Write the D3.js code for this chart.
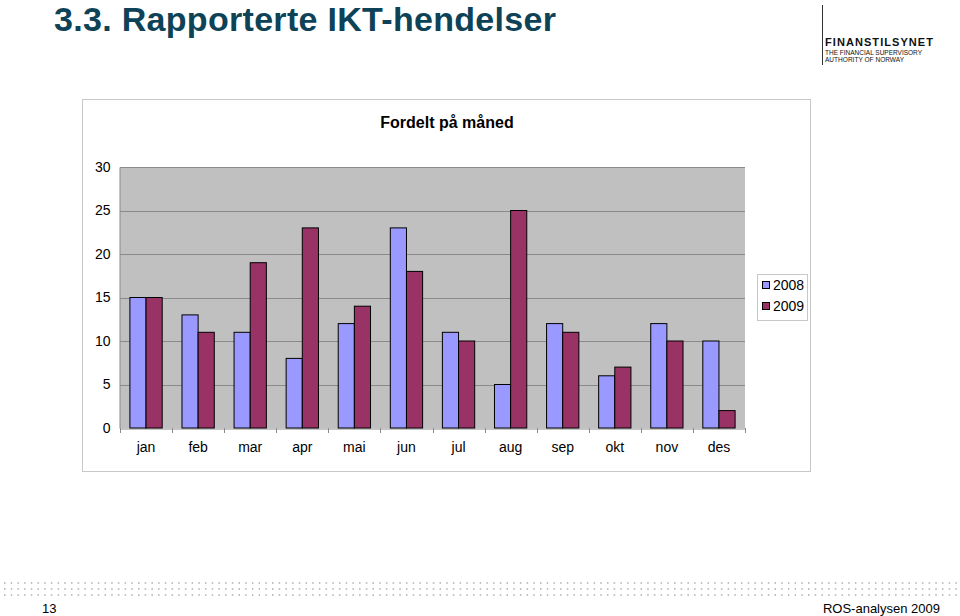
<!DOCTYPE html>
<html>
<head>
<meta charset="utf-8">
<script src="https://cdn.jsdelivr.net/npm/d3@7"></script>
<style>
  body { margin: 0; background: #fff; }
  svg { display: block; font-family: "Liberation Sans", Arial, sans-serif; }
</style>
</head>
<body>
<svg id="page" width="960" height="616"></svg>
<script>
var months = ['jan', 'feb', 'mar', 'apr', 'mai', 'jun', 'jul', 'aug', 'sep', 'okt', 'nov', 'des'];
var values2008 = [15, 13, 11, 8, 12, 23, 11, 5, 12, 6, 12, 10];
var values2009 = [15, 11, 19, 23, 14, 18, 10, 25, 11, 7, 10, 2];
var seriesNames = ['2008', '2009'];
var seriesColors = ['#9999ff', '#993366'];
var yTicks = [0, 5, 10, 15, 20, 25, 30];

var svg = d3.select('#page');

// slide title
svg.append('text')
  .attr('x', 54).attr('y', 31)
  .attr('font-size', 34).attr('font-weight', 'bold')
  .attr('fill', '#0d4257')
  .attr('textLength', 502)
  .text('3.3. Rapporterte IKT-hendelser');

// logo
svg.append('line')
  .attr('x1', 822.5).attr('x2', 822.5).attr('y1', 5).attr('y2', 65)
  .attr('stroke', '#333').attr('stroke-width', 1);
svg.append('text').attr('x', 825).attr('y', 46)
  .attr('font-size', 11).attr('font-weight', 'bold').attr('fill', '#111')
  .attr('textLength', 108)
  .text('FINANSTILSYNET');
svg.append('text').attr('x', 825).attr('y', 55)
  .attr('font-size', 6.5).attr('fill', '#111').attr('textLength', 97)
  .text('THE FINANCIAL SUPERVISORY');
svg.append('text').attr('x', 825).attr('y', 62)
  .attr('font-size', 6.5).attr('fill', '#111').attr('textLength', 79)
  .text('AUTHORITY OF NORWAY');

// chart frame
svg.append('rect')
  .attr('x', 82.5).attr('y', 99.5).attr('width', 728).attr('height', 372)
  .attr('fill', '#fff').attr('stroke', '#c8c8c8');

svg.append('text')
  .attr('x', 447).attr('y', 128)
  .attr('text-anchor', 'middle')
  .attr('font-size', 16).attr('font-weight', 'bold')
  .text('Fordelt på måned');

var plot = { left: 120, right: 745, top: 167, bottom: 428 };

var x = d3.scaleBand().domain(months)
  .range([plot.left, plot.right])
  .paddingInner(0.38).paddingOuter(0.19);
var xs = d3.scaleBand().domain(seriesNames).range([0, x.bandwidth()]);
var y = d3.scaleLinear().domain([0, 30]).range([plot.bottom, plot.top]);

svg.append('rect')
  .attr('x', plot.left).attr('y', plot.top)
  .attr('width', plot.right - plot.left).attr('height', plot.bottom - plot.top)
  .attr('fill', '#c0c0c0');

// gridlines
svg.append('g').selectAll('line')
  .data(yTicks.filter(function(d) { return d > 0; }))
  .enter().append('line')
  .attr('x1', plot.left).attr('x2', plot.right)
  .attr('y1', function(d) { return Math.round(y(d)) + 0.5; })
  .attr('y2', function(d) { return Math.round(y(d)) + 0.5; })
  .attr('stroke', '#8a8a8a');

// y axis
var yAxis = svg.append('g')
  .attr('transform', 'translate(' + (plot.left - 0.5) + ',0)')
  .call(d3.axisLeft(y).tickValues(yTicks).tickSize(0).tickPadding(9));
yAxis.select('.domain').attr('stroke', '#8a8a8a');
yAxis.selectAll('text').attr('font-size', 14).attr('fill', '#000')
  .attr('font-family', '"Liberation Sans", Arial, sans-serif');

// x axis
var xAxis = svg.append('g')
  .attr('transform', 'translate(0,' + (plot.bottom + 0.5) + ')')
  .call(d3.axisBottom(x).tickSize(0).tickPadding(14));
xAxis.select('.domain').attr('stroke', '#8a8a8a');
xAxis.selectAll('text').attr('font-size', 14).attr('fill', '#000')
  .attr('font-family', '"Liberation Sans", Arial, sans-serif');
// category dividers on the x axis
var step = (plot.right - plot.left) / months.length;
svg.append('g').selectAll('line')
  .data(d3.range(months.length + 1))
  .enter().append('line')
  .attr('x1', function(i) { return Math.round(plot.left + i * step) + 0.5; })
  .attr('x2', function(i) { return Math.round(plot.left + i * step) + 0.5; })
  .attr('y1', plot.bottom).attr('y2', plot.bottom + 5)
  .attr('stroke', '#8a8a8a');

// bars
var rows = months.map(function(m, i) {
  return { month: m, values: [values2008[i], values2009[i]] };
});
var groups = svg.append('g').selectAll('g')
  .data(rows).enter().append('g')
  .attr('transform', function(d) { return 'translate(' + x(d.month) + ',0)'; });
groups.selectAll('rect')
  .data(function(d) {
    return d.values.map(function(v, j) { return { name: seriesNames[j], value: v, color: seriesColors[j] }; });
  })
  .enter().append('rect')
  .attr('x', function(d) { return xs(d.name); })
  .attr('y', function(d) { return y(d.value); })
  .attr('width', xs.bandwidth())
  .attr('height', function(d) { return y(0) - y(d.value); })
  .attr('fill', function(d) { return d.color; })
  .attr('stroke', '#000').attr('stroke-width', 1);

// legend
var legend = svg.append('g').attr('transform', 'translate(757,274)');
legend.append('rect').attr('x', 0.5).attr('y', 0.5).attr('width', 50).attr('height', 46)
  .attr('fill', '#fff').attr('stroke', '#c8c8c8');
var items = legend.selectAll('g.item').data(seriesNames).enter().append('g')
  .attr('transform', function(d, i) { return 'translate(5,' + (7 + i * 21) + ')'; });
items.append('rect').attr('width', 7).attr('height', 7).attr('y', 0.5).attr('x', 0.5)
  .attr('fill', function(d, i) { return seriesColors[i]; })
  .attr('stroke', '#000');
items.append('text').attr('x', 11).attr('y', 9)
  .attr('font-size', 14).text(function(d) { return d; });

// dotted footer bands
[583, 589, 595].forEach(function(yy) {
  svg.append('line')
    .attr('x1', 4).attr('x2', 958).attr('y1', yy).attr('y2', yy)
    .attr('stroke', '#a8b0b8').attr('stroke-width', 1.5)
    .attr('stroke-dasharray', '1.5,5.2');
});
svg.append('text').attr('x', 42).attr('y', 613).attr('font-size', 13).text('13');
svg.append('text').attr('x', 940).attr('y', 613).attr('font-size', 13)
  .attr('text-anchor', 'end').text('ROS-analysen 2009');
</script>
</body>
</html>
